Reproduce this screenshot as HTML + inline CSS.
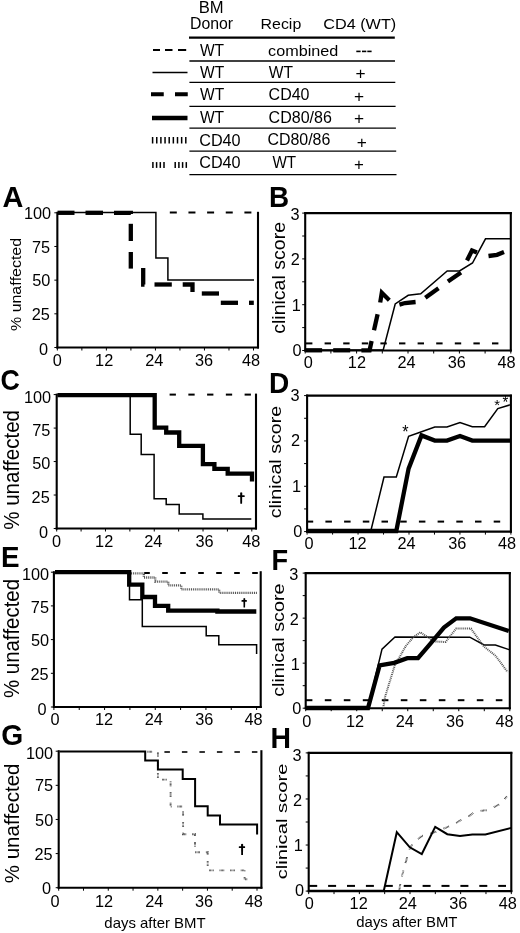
<!DOCTYPE html>
<html><head><meta charset="utf-8"><style>
html,body{margin:0;padding:0;background:#fff;}
body{width:520px;height:933px;overflow:hidden;}
svg{display:block;will-change:transform;}
svg text{font-family:"Liberation Sans", sans-serif;fill:#000;font-kerning:none;}
</style></head><body>
<svg width="520" height="933" viewBox="0 0 520 933">
<text font-size="15.99" transform="translate(198.64 13.3) scale(1.0393 1)">BM</text>
<text font-size="16.48" transform="translate(190 28.64) scale(0.9615 1)">Donor</text>
<text font-size="15.45" transform="translate(260.59 29.29) scale(1.0298 1)">Recip</text>
<text font-size="15.24" transform="translate(323.17 28.94) scale(1.0665 1)">CD4 (WT)</text>
<line x1="189" y1="37.6" x2="394.8" y2="37.6" stroke="#000" stroke-width="2.2" stroke-linecap="butt"/>
<line x1="189.4" y1="61" x2="395" y2="61" stroke="#000" stroke-width="1.3" stroke-linecap="butt"/>
<line x1="189.4" y1="82.3" x2="395.3" y2="82.3" stroke="#000" stroke-width="1.3" stroke-linecap="butt"/>
<line x1="189.4" y1="106.3" x2="395.6" y2="106.3" stroke="#000" stroke-width="1.3" stroke-linecap="butt"/>
<line x1="189.4" y1="128.1" x2="395.9" y2="128.1" stroke="#000" stroke-width="1.3" stroke-linecap="butt"/>
<line x1="189.4" y1="151.1" x2="396.2" y2="151.1" stroke="#000" stroke-width="1.3" stroke-linecap="butt"/>
<line x1="189.4" y1="174.6" x2="396.5" y2="174.6" stroke="#000" stroke-width="1.3" stroke-linecap="butt"/>
<text font-size="16.86" transform="translate(199.93 55.9) scale(0.9242 1)">WT</text>
<text font-size="16.72" transform="translate(199.93 77.5) scale(0.9322 1)">WT</text>
<text font-size="16.72" transform="translate(199.93 100.1) scale(0.9322 1)">WT</text>
<text font-size="16.13" transform="translate(199.93 123) scale(0.9658 1)">WT</text>
<text font-size="16.24" transform="translate(199.18 145.64) scale(0.9983 1)">CD40</text>
<text font-size="15.96" transform="translate(199.18 168.04) scale(1.0160 1)">CD40</text>
<text font-size="15.11" transform="translate(268.11 55.55) scale(1.0716 1)">combined</text>
<text font-size="16.42" transform="translate(268.73 77.6) scale(0.9487 1)">WT</text>
<text font-size="16.67" transform="translate(268.59 100.24) scale(0.9608 1)">CD40</text>
<text font-size="15.66" transform="translate(268.59 123.05) scale(1.0245 1)">CD80/86</text>
<text font-size="15.66" transform="translate(267.39 145.35) scale(1.0195 1)">CD80/86</text>
<text font-size="15.7" transform="translate(272.43 167.8) scale(0.9718 1)">WT</text>
<rect x="356.3" y="50.6" width="4.3" height="1.6" fill="#000"/>
<rect x="362" y="50.6" width="4.3" height="1.6" fill="#000"/>
<rect x="367.3" y="50.6" width="4.3" height="1.6" fill="#000"/>
<text font-size="16.76" transform="translate(355.56 79.27) scale(1.0316 1)">+</text>
<text font-size="16.35" transform="translate(353.96 101.64) scale(1.0574 1)">+</text>
<text font-size="16.35" transform="translate(353.96 124.44) scale(1.0574 1)">+</text>
<text font-size="16.76" transform="translate(356.76 147.67) scale(1.0316 1)">+</text>
<text font-size="17.17" transform="translate(353.98 169.81) scale(0.9831 1)">+</text>
<line x1="153" y1="50" x2="160" y2="50" stroke="#000" stroke-width="2" stroke-linecap="butt"/>
<line x1="165" y1="50" x2="172.5" y2="50" stroke="#000" stroke-width="2" stroke-linecap="butt"/>
<line x1="178" y1="50" x2="186.2" y2="50" stroke="#000" stroke-width="2" stroke-linecap="butt"/>
<line x1="152.5" y1="72.5" x2="187.5" y2="72.5" stroke="#000" stroke-width="1.5" stroke-linecap="butt"/>
<line x1="151" y1="94.3" x2="188" y2="94.3" stroke="#000" stroke-width="4" stroke-linecap="butt" stroke-dasharray="12.75,11.25"/>
<line x1="152" y1="118" x2="187.5" y2="118" stroke="#000" stroke-width="4.5" stroke-linecap="butt"/>
<line x1="152.6" y1="137" x2="152.6" y2="143.5" stroke="#000" stroke-width="1.5" stroke-linecap="butt"/>
<line x1="156.75" y1="137" x2="156.75" y2="143.5" stroke="#000" stroke-width="1.5" stroke-linecap="butt"/>
<line x1="160.9" y1="137" x2="160.9" y2="143.5" stroke="#000" stroke-width="1.5" stroke-linecap="butt"/>
<line x1="165.05" y1="137" x2="165.05" y2="143.5" stroke="#000" stroke-width="1.5" stroke-linecap="butt"/>
<line x1="169.2" y1="137" x2="169.2" y2="143.5" stroke="#000" stroke-width="1.5" stroke-linecap="butt"/>
<line x1="173.35" y1="137" x2="173.35" y2="143.5" stroke="#000" stroke-width="1.5" stroke-linecap="butt"/>
<line x1="177.5" y1="137" x2="177.5" y2="143.5" stroke="#000" stroke-width="1.5" stroke-linecap="butt"/>
<line x1="181.65" y1="137" x2="181.65" y2="143.5" stroke="#000" stroke-width="1.5" stroke-linecap="butt"/>
<line x1="185.8" y1="137" x2="185.8" y2="143.5" stroke="#000" stroke-width="1.5" stroke-linecap="butt"/>
<line x1="152.9" y1="162.1" x2="152.9" y2="167.9" stroke="#000" stroke-width="1.5" stroke-linecap="butt"/>
<line x1="156.6" y1="162.1" x2="156.6" y2="167.9" stroke="#000" stroke-width="1.5" stroke-linecap="butt"/>
<line x1="160.3" y1="162.1" x2="160.3" y2="167.9" stroke="#000" stroke-width="1.5" stroke-linecap="butt"/>
<line x1="164" y1="162.1" x2="164" y2="167.9" stroke="#000" stroke-width="1.5" stroke-linecap="butt"/>
<line x1="175.2" y1="162.1" x2="175.2" y2="167.9" stroke="#000" stroke-width="1.5" stroke-linecap="butt"/>
<line x1="178.9" y1="162.1" x2="178.9" y2="167.9" stroke="#000" stroke-width="1.5" stroke-linecap="butt"/>
<line x1="182.6" y1="162.1" x2="182.6" y2="167.9" stroke="#000" stroke-width="1.5" stroke-linecap="butt"/>
<line x1="186.3" y1="162.1" x2="186.3" y2="167.9" stroke="#000" stroke-width="1.5" stroke-linecap="butt"/>
<text font-size="29.07" font-weight="bold" transform="translate(2.38 207) scale(0.9947 1)">A</text>
<text font-size="29.07" font-weight="bold" transform="translate(268.94 206.8) scale(0.9589 1)">B</text>
<text font-size="29.1" font-weight="bold" transform="translate(0.6 389.52) scale(0.9199 1)">C</text>
<text font-size="29.22" font-weight="bold" transform="translate(268.92 392.8) scale(0.9600 1)">D</text>
<text font-size="29.36" font-weight="bold" transform="translate(1.04 566.9) scale(0.9470 1)">E</text>
<text font-size="29.07" font-weight="bold" transform="translate(271.38 569.5) scale(0.9357 1)">F</text>
<text font-size="28.95" font-weight="bold" transform="translate(1.14 744.92) scale(0.9776 1)">G</text>
<text font-size="29.07" font-weight="bold" transform="translate(270.5 747.8) scale(0.9772 1)">H</text>
<text font-size="15.39" transform="translate(21.15 330.97) rotate(-90) scale(1.0365 1)">% unaffected</text>
<text font-size="21.65" transform="translate(18.99 529.73) rotate(-90) scale(0.9479 1)">% unaffected</text>
<text font-size="21.65" transform="translate(18.99 697.98) rotate(-90) scale(0.9419 1)">% unaffected</text>
<text font-size="21.04" transform="translate(18.99 883.23) rotate(-90) scale(0.9755 1)">% unaffected</text>
<text font-size="18.38" transform="translate(285.07 333.83) rotate(-90) scale(1.0639 1)">clinical score</text>
<text font-size="16.75" transform="translate(281.34 518.34) rotate(-90) scale(1.1756 1)">clinical score</text>
<text font-size="17.36" transform="translate(284.33 696.84) rotate(-90) scale(1.1418 1)">clinical score</text>
<text font-size="15.25" transform="translate(286.75 879.26) rotate(-90) scale(1.3272 1)">clinical score</text>
<text font-size="15.02" transform="translate(104.37 927.78) scale(0.9955 1)">days after BMT</text>
<text font-size="15.34" transform="translate(356.27 927.22) scale(0.9746 1)">days after BMT</text>
<path d="M240.15,492.8 Q241.2,491.8 242.25,492.8 L242.08,503.8 L240.32,503.8 Z" fill="#000"/>
<rect x="237.8" y="495.2" width="6.9" height="1.8" rx="0.5" fill="#000"/>
<path d="M243.4,598.4 Q244.3,597.4 245.2,598.4 L245.06,607.5 L243.54,607.5 Z" fill="#000"/>
<rect x="241.5" y="600.1" width="5.4" height="1.6" rx="0.5" fill="#000"/>
<path d="M241.05,844.2 Q242.1,843.2 243.15,844.2 L242.98,854.9 L241.22,854.9 Z" fill="#000"/>
<rect x="238.8" y="846.3" width="6.3" height="1.8" rx="0.5" fill="#000"/>
<text font-size="18.23" transform="translate(402.34 438.34) scale(0.8902 1)">*</text>
<text font-size="15.38" transform="translate(494.36 410.28) scale(0.9641 1)">*</text>
<text font-size="17.09" transform="translate(502.46 407.76) scale(0.8676 1)">*</text>
<line x1="57.35" y1="211.8" x2="57.35" y2="348.5" stroke="#000" stroke-width="2.1" stroke-linecap="butt"/>
<line x1="56.35" y1="347.5" x2="259" y2="347.5" stroke="#000" stroke-width="2.1" stroke-linecap="butt"/>
<line x1="258" y1="211.8" x2="258" y2="348.5" stroke="#000" stroke-width="2.1" stroke-linecap="butt"/>
<line x1="54.35" y1="347.5" x2="57.35" y2="347.5" stroke="#000" stroke-width="1" stroke-linecap="butt"/>
<line x1="54.35" y1="313.82" x2="57.35" y2="313.82" stroke="#000" stroke-width="1" stroke-linecap="butt"/>
<line x1="54.35" y1="280.15" x2="57.35" y2="280.15" stroke="#000" stroke-width="1" stroke-linecap="butt"/>
<line x1="54.35" y1="246.47" x2="57.35" y2="246.47" stroke="#000" stroke-width="1" stroke-linecap="butt"/>
<line x1="54.35" y1="212.8" x2="57.35" y2="212.8" stroke="#000" stroke-width="1" stroke-linecap="butt"/>
<line x1="57.35" y1="347.5" x2="57.35" y2="350.5" stroke="#000" stroke-width="1" stroke-linecap="butt"/>
<line x1="81.87" y1="347.5" x2="81.87" y2="350.5" stroke="#000" stroke-width="1" stroke-linecap="butt"/>
<line x1="106.39" y1="347.5" x2="106.39" y2="350.5" stroke="#000" stroke-width="1" stroke-linecap="butt"/>
<line x1="130.91" y1="347.5" x2="130.91" y2="350.5" stroke="#000" stroke-width="1" stroke-linecap="butt"/>
<line x1="155.43" y1="347.5" x2="155.43" y2="350.5" stroke="#000" stroke-width="1" stroke-linecap="butt"/>
<line x1="179.94" y1="347.5" x2="179.94" y2="350.5" stroke="#000" stroke-width="1" stroke-linecap="butt"/>
<line x1="204.46" y1="347.5" x2="204.46" y2="350.5" stroke="#000" stroke-width="1" stroke-linecap="butt"/>
<line x1="228.98" y1="347.5" x2="228.98" y2="350.5" stroke="#000" stroke-width="1" stroke-linecap="butt"/>
<line x1="253.5" y1="347.5" x2="253.5" y2="350.5" stroke="#000" stroke-width="1" stroke-linecap="butt"/>
<text x="23.95" y="219.46" font-size="16.3" text-anchor="start">100</text>
<text x="32.06" y="253.08" font-size="16.3" text-anchor="start">75</text>
<text x="32.28" y="286.36" font-size="16.3" text-anchor="start">50</text>
<text x="31.67" y="320.06" font-size="16.3" text-anchor="start">25</text>
<text x="38.97" y="355.01" font-size="16.3" text-anchor="start">0</text>
<text x="52.87" y="365.91" font-size="16.3" text-anchor="start">0</text>
<text x="95.12" y="365.99" font-size="16.3" text-anchor="start">12</text>
<text x="145.16" y="365.99" font-size="16.3" text-anchor="start">24</text>
<text x="194.93" y="365.91" font-size="16.3" text-anchor="start">36</text>
<text x="242.05" y="365.91" font-size="16.3" text-anchor="start">48</text>
<line x1="169.8" y1="212.5" x2="176.8" y2="212.5" stroke="#000" stroke-width="2" stroke-linecap="butt"/>
<line x1="188.45" y1="212.5" x2="195.45" y2="212.5" stroke="#000" stroke-width="2" stroke-linecap="butt"/>
<line x1="207.1" y1="212.5" x2="214.1" y2="212.5" stroke="#000" stroke-width="2" stroke-linecap="butt"/>
<line x1="225.75" y1="212.5" x2="232.75" y2="212.5" stroke="#000" stroke-width="2" stroke-linecap="butt"/>
<line x1="244.4" y1="212.5" x2="251.4" y2="212.5" stroke="#000" stroke-width="2" stroke-linecap="butt"/>
<polyline points="58,212.6 155.9,212.6 155.9,257.9 167.9,257.9 167.9,280 254,280" fill="none" stroke="#000" stroke-width="1.5" stroke-linejoin="miter" stroke-linecap="butt"/>
<polyline points="57.5,212.8 74.5,212.8" fill="none" stroke="#000" stroke-width="4.3" stroke-linejoin="miter" stroke-linecap="butt"/>
<polyline points="85.5,212.8 103,212.8" fill="none" stroke="#000" stroke-width="4.3" stroke-linejoin="miter" stroke-linecap="butt"/>
<polyline points="114,212.8 130.8,212.8 130.8,214" fill="none" stroke="#000" stroke-width="4.3" stroke-linejoin="miter" stroke-linecap="butt"/>
<polyline points="130.8,223.8 130.8,241" fill="none" stroke="#000" stroke-width="4.3" stroke-linejoin="miter" stroke-linecap="butt"/>
<polyline points="130.8,252 130.8,268.6" fill="none" stroke="#000" stroke-width="4.3" stroke-linejoin="miter" stroke-linecap="butt"/>
<polyline points="143.2,268 143.2,284.5 144.5,284.5" fill="none" stroke="#000" stroke-width="4.3" stroke-linejoin="miter" stroke-linecap="butt"/>
<polyline points="154.5,284.5 171.8,284.5" fill="none" stroke="#000" stroke-width="4.3" stroke-linejoin="miter" stroke-linecap="butt"/>
<polyline points="182.7,284.5 192.5,284.5 192.5,292" fill="none" stroke="#000" stroke-width="4.3" stroke-linejoin="miter" stroke-linecap="butt"/>
<polyline points="201.8,293.5 219,293.5" fill="none" stroke="#000" stroke-width="4.3" stroke-linejoin="miter" stroke-linecap="butt"/>
<polyline points="220.8,302.8 238,302.8" fill="none" stroke="#000" stroke-width="4.3" stroke-linejoin="miter" stroke-linecap="butt"/>
<polyline points="249,302.8 253.8,302.8" fill="none" stroke="#000" stroke-width="4.3" stroke-linejoin="miter" stroke-linecap="butt"/>
<line x1="305.2" y1="212.1" x2="305.2" y2="351.5" stroke="#000" stroke-width="2.1" stroke-linecap="butt"/>
<line x1="304.2" y1="350.5" x2="511.8" y2="350.5" stroke="#000" stroke-width="2.1" stroke-linecap="butt"/>
<line x1="510.8" y1="212.1" x2="510.8" y2="351.5" stroke="#000" stroke-width="2.1" stroke-linecap="butt"/>
<line x1="304.2" y1="213.1" x2="511.8" y2="213.1" stroke="#000" stroke-width="2.1" stroke-linecap="butt"/>
<line x1="302.2" y1="350.5" x2="305.2" y2="350.5" stroke="#000" stroke-width="1" stroke-linecap="butt"/>
<line x1="302.2" y1="327.6" x2="305.2" y2="327.6" stroke="#000" stroke-width="1" stroke-linecap="butt"/>
<line x1="302.2" y1="304.7" x2="305.2" y2="304.7" stroke="#000" stroke-width="1" stroke-linecap="butt"/>
<line x1="302.2" y1="281.8" x2="305.2" y2="281.8" stroke="#000" stroke-width="1" stroke-linecap="butt"/>
<line x1="302.2" y1="258.9" x2="305.2" y2="258.9" stroke="#000" stroke-width="1" stroke-linecap="butt"/>
<line x1="302.2" y1="236" x2="305.2" y2="236" stroke="#000" stroke-width="1" stroke-linecap="butt"/>
<line x1="302.2" y1="213.1" x2="305.2" y2="213.1" stroke="#000" stroke-width="1" stroke-linecap="butt"/>
<line x1="305.2" y1="350.5" x2="305.2" y2="353.5" stroke="#000" stroke-width="1" stroke-linecap="butt"/>
<line x1="330.9" y1="350.5" x2="330.9" y2="353.5" stroke="#000" stroke-width="1" stroke-linecap="butt"/>
<line x1="356.6" y1="350.5" x2="356.6" y2="353.5" stroke="#000" stroke-width="1" stroke-linecap="butt"/>
<line x1="382.3" y1="350.5" x2="382.3" y2="353.5" stroke="#000" stroke-width="1" stroke-linecap="butt"/>
<line x1="408" y1="350.5" x2="408" y2="353.5" stroke="#000" stroke-width="1" stroke-linecap="butt"/>
<line x1="433.7" y1="350.5" x2="433.7" y2="353.5" stroke="#000" stroke-width="1" stroke-linecap="butt"/>
<line x1="459.4" y1="350.5" x2="459.4" y2="353.5" stroke="#000" stroke-width="1" stroke-linecap="butt"/>
<line x1="485.1" y1="350.5" x2="485.1" y2="353.5" stroke="#000" stroke-width="1" stroke-linecap="butt"/>
<line x1="510.8" y1="350.5" x2="510.8" y2="353.5" stroke="#000" stroke-width="1" stroke-linecap="butt"/>
<text x="290.42" y="220.31" font-size="16.3" text-anchor="start">3</text>
<text x="290.77" y="265.34" font-size="16.3" text-anchor="start">2</text>
<text x="291.64" y="311.21" font-size="16.3" text-anchor="start">1</text>
<text x="292.62" y="356.16" font-size="16.3" text-anchor="start">0</text>
<text x="303.82" y="368.16" font-size="16.3" text-anchor="start">0</text>
<text x="347.87" y="368.24" font-size="16.3" text-anchor="start">12</text>
<text x="397.56" y="368.24" font-size="16.3" text-anchor="start">24</text>
<text x="447.68" y="368.16" font-size="16.3" text-anchor="start">36</text>
<text x="497.5" y="368.16" font-size="16.3" text-anchor="start">48</text>
<line x1="306" y1="343.4" x2="312.4" y2="343.4" stroke="#000" stroke-width="2" stroke-linecap="butt"/>
<line x1="324.6" y1="343.4" x2="331" y2="343.4" stroke="#000" stroke-width="2" stroke-linecap="butt"/>
<line x1="343.2" y1="343.4" x2="349.6" y2="343.4" stroke="#000" stroke-width="2" stroke-linecap="butt"/>
<line x1="361.8" y1="343.4" x2="368.2" y2="343.4" stroke="#000" stroke-width="2" stroke-linecap="butt"/>
<line x1="380.4" y1="343.4" x2="386.8" y2="343.4" stroke="#000" stroke-width="2" stroke-linecap="butt"/>
<line x1="399" y1="343.4" x2="405.4" y2="343.4" stroke="#000" stroke-width="2" stroke-linecap="butt"/>
<line x1="417.6" y1="343.4" x2="424" y2="343.4" stroke="#000" stroke-width="2" stroke-linecap="butt"/>
<line x1="436.2" y1="343.4" x2="442.6" y2="343.4" stroke="#000" stroke-width="2" stroke-linecap="butt"/>
<line x1="454.8" y1="343.4" x2="461.2" y2="343.4" stroke="#000" stroke-width="2" stroke-linecap="butt"/>
<line x1="473.4" y1="343.4" x2="479.8" y2="343.4" stroke="#000" stroke-width="2" stroke-linecap="butt"/>
<line x1="492" y1="343.4" x2="498.4" y2="343.4" stroke="#000" stroke-width="2" stroke-linecap="butt"/>
<polyline points="306,350 383.2,350 395.2,304 408.2,295.3 420.7,293.8 447.2,270.9 459.5,270.9 472.5,263 485.5,238.8 510.8,238.8" fill="none" stroke="#000" stroke-width="1.5" stroke-linejoin="miter" stroke-linecap="butt"/>
<polyline points="305.5,350.3 322.1,350.3" fill="none" stroke="#000" stroke-width="4.3" stroke-linejoin="miter" stroke-linecap="butt"/>
<polyline points="333.2,350.3 350.2,350.3" fill="none" stroke="#000" stroke-width="4.3" stroke-linejoin="miter" stroke-linecap="butt"/>
<polyline points="361.4,350.3 369.6,350.3 371.6,341" fill="none" stroke="#000" stroke-width="4.3" stroke-linejoin="miter" stroke-linecap="butt"/>
<polyline points="374,330.2 377.6,314.2" fill="none" stroke="#000" stroke-width="4.3" stroke-linejoin="miter" stroke-linecap="butt"/>
<polyline points="380.2,302.5 381.8,292.8 389.3,300.2" fill="none" stroke="#000" stroke-width="4.3" stroke-linejoin="miter" stroke-linecap="butt"/>
<polyline points="399.4,304.6 405,303 415.6,302" fill="none" stroke="#000" stroke-width="4.3" stroke-linejoin="miter" stroke-linecap="butt"/>
<polyline points="425.3,297.7 438.5,288.3" fill="none" stroke="#000" stroke-width="4.3" stroke-linejoin="miter" stroke-linecap="butt"/>
<polyline points="447.9,281.5 461,272.5" fill="none" stroke="#000" stroke-width="4.3" stroke-linejoin="miter" stroke-linecap="butt"/>
<polyline points="467,260.5 472,250.5 477,252.5" fill="none" stroke="#000" stroke-width="4.3" stroke-linejoin="miter" stroke-linecap="butt"/>
<polyline points="488.5,256 497,254.8 504,252" fill="none" stroke="#000" stroke-width="4.3" stroke-linejoin="miter" stroke-linecap="butt"/>
<line x1="56.7" y1="393.6" x2="56.7" y2="529.5" stroke="#000" stroke-width="2.1" stroke-linecap="butt"/>
<line x1="55.7" y1="528.5" x2="257" y2="528.5" stroke="#000" stroke-width="2.1" stroke-linecap="butt"/>
<line x1="256" y1="393.6" x2="256" y2="529.5" stroke="#000" stroke-width="2.1" stroke-linecap="butt"/>
<line x1="53.7" y1="528.5" x2="56.7" y2="528.5" stroke="#000" stroke-width="1" stroke-linecap="butt"/>
<line x1="53.7" y1="495.02" x2="56.7" y2="495.02" stroke="#000" stroke-width="1" stroke-linecap="butt"/>
<line x1="53.7" y1="461.55" x2="56.7" y2="461.55" stroke="#000" stroke-width="1" stroke-linecap="butt"/>
<line x1="53.7" y1="428.08" x2="56.7" y2="428.08" stroke="#000" stroke-width="1" stroke-linecap="butt"/>
<line x1="53.7" y1="394.6" x2="56.7" y2="394.6" stroke="#000" stroke-width="1" stroke-linecap="butt"/>
<line x1="56.7" y1="528.5" x2="56.7" y2="531.5" stroke="#000" stroke-width="1" stroke-linecap="butt"/>
<line x1="81.09" y1="528.5" x2="81.09" y2="531.5" stroke="#000" stroke-width="1" stroke-linecap="butt"/>
<line x1="105.48" y1="528.5" x2="105.48" y2="531.5" stroke="#000" stroke-width="1" stroke-linecap="butt"/>
<line x1="129.86" y1="528.5" x2="129.86" y2="531.5" stroke="#000" stroke-width="1" stroke-linecap="butt"/>
<line x1="154.25" y1="528.5" x2="154.25" y2="531.5" stroke="#000" stroke-width="1" stroke-linecap="butt"/>
<line x1="178.64" y1="528.5" x2="178.64" y2="531.5" stroke="#000" stroke-width="1" stroke-linecap="butt"/>
<line x1="203.03" y1="528.5" x2="203.03" y2="531.5" stroke="#000" stroke-width="1" stroke-linecap="butt"/>
<line x1="227.41" y1="528.5" x2="227.41" y2="531.5" stroke="#000" stroke-width="1" stroke-linecap="butt"/>
<line x1="251.8" y1="528.5" x2="251.8" y2="531.5" stroke="#000" stroke-width="1" stroke-linecap="butt"/>
<text x="23.95" y="402.61" font-size="16.3" text-anchor="start">100</text>
<text x="32.21" y="436.08" font-size="16.3" text-anchor="start">75</text>
<text x="32.28" y="469.36" font-size="16.3" text-anchor="start">50</text>
<text x="31.62" y="502.91" font-size="16.3" text-anchor="start">25</text>
<text x="38.97" y="537.61" font-size="16.3" text-anchor="start">0</text>
<text x="52.12" y="546.96" font-size="16.3" text-anchor="start">0</text>
<text x="95.07" y="547.04" font-size="16.3" text-anchor="start">12</text>
<text x="144.31" y="547.04" font-size="16.3" text-anchor="start">24</text>
<text x="195.38" y="546.96" font-size="16.3" text-anchor="start">36</text>
<text x="242.2" y="546.96" font-size="16.3" text-anchor="start">48</text>
<line x1="169.6" y1="394.6" x2="175.9" y2="394.6" stroke="#000" stroke-width="2" stroke-linecap="butt"/>
<line x1="188.35" y1="394.6" x2="194.65" y2="394.6" stroke="#000" stroke-width="2" stroke-linecap="butt"/>
<line x1="207.1" y1="394.6" x2="213.4" y2="394.6" stroke="#000" stroke-width="2" stroke-linecap="butt"/>
<line x1="225.85" y1="394.6" x2="232.15" y2="394.6" stroke="#000" stroke-width="2" stroke-linecap="butt"/>
<line x1="244.6" y1="394.6" x2="250.9" y2="394.6" stroke="#000" stroke-width="2" stroke-linecap="butt"/>
<polyline points="57.5,395.1 130.2,395.1 130.2,434.2 141.2,434.2 141.2,454.4 154.1,454.4 154.1,498.8 166.2,498.8 166.2,504.6 179.2,504.6 179.2,514.1 202.9,514.1 202.9,519 251.3,519" fill="none" stroke="#000" stroke-width="1.5" stroke-linejoin="miter" stroke-linecap="butt"/>
<polyline points="57.5,395.1 154.7,395.1 154.7,427.6 166.2,427.6 166.2,432.5 179.2,432.5 179.2,445.8 202.9,445.8 202.9,464.2 214.4,464.2 214.4,468.8 227.7,468.8 227.7,473.7 252,473.7 252,481.6" fill="none" stroke="#000" stroke-width="4.3" stroke-linejoin="miter" stroke-linecap="butt"/>
<line x1="307.1" y1="394.6" x2="307.1" y2="532.6" stroke="#000" stroke-width="2.1" stroke-linecap="butt"/>
<line x1="306.1" y1="531.6" x2="511.9" y2="531.6" stroke="#000" stroke-width="2.1" stroke-linecap="butt"/>
<line x1="510.9" y1="394.6" x2="510.9" y2="532.6" stroke="#000" stroke-width="2.1" stroke-linecap="butt"/>
<line x1="306.1" y1="395.6" x2="511.9" y2="395.6" stroke="#000" stroke-width="2.1" stroke-linecap="butt"/>
<line x1="304.1" y1="531.6" x2="307.1" y2="531.6" stroke="#000" stroke-width="1" stroke-linecap="butt"/>
<line x1="304.1" y1="508.93" x2="307.1" y2="508.93" stroke="#000" stroke-width="1" stroke-linecap="butt"/>
<line x1="304.1" y1="486.27" x2="307.1" y2="486.27" stroke="#000" stroke-width="1" stroke-linecap="butt"/>
<line x1="304.1" y1="463.6" x2="307.1" y2="463.6" stroke="#000" stroke-width="1" stroke-linecap="butt"/>
<line x1="304.1" y1="440.93" x2="307.1" y2="440.93" stroke="#000" stroke-width="1" stroke-linecap="butt"/>
<line x1="304.1" y1="418.27" x2="307.1" y2="418.27" stroke="#000" stroke-width="1" stroke-linecap="butt"/>
<line x1="304.1" y1="395.6" x2="307.1" y2="395.6" stroke="#000" stroke-width="1" stroke-linecap="butt"/>
<line x1="307.1" y1="531.6" x2="307.1" y2="534.6" stroke="#000" stroke-width="1" stroke-linecap="butt"/>
<line x1="332.58" y1="531.6" x2="332.58" y2="534.6" stroke="#000" stroke-width="1" stroke-linecap="butt"/>
<line x1="358.05" y1="531.6" x2="358.05" y2="534.6" stroke="#000" stroke-width="1" stroke-linecap="butt"/>
<line x1="383.52" y1="531.6" x2="383.52" y2="534.6" stroke="#000" stroke-width="1" stroke-linecap="butt"/>
<line x1="409" y1="531.6" x2="409" y2="534.6" stroke="#000" stroke-width="1" stroke-linecap="butt"/>
<line x1="434.47" y1="531.6" x2="434.47" y2="534.6" stroke="#000" stroke-width="1" stroke-linecap="butt"/>
<line x1="459.95" y1="531.6" x2="459.95" y2="534.6" stroke="#000" stroke-width="1" stroke-linecap="butt"/>
<line x1="485.42" y1="531.6" x2="485.42" y2="534.6" stroke="#000" stroke-width="1" stroke-linecap="butt"/>
<line x1="510.9" y1="531.6" x2="510.9" y2="534.6" stroke="#000" stroke-width="1" stroke-linecap="butt"/>
<text x="290.42" y="401.06" font-size="16.3" text-anchor="start">3</text>
<text x="290.92" y="446.44" font-size="16.3" text-anchor="start">2</text>
<text x="291.99" y="491.81" font-size="16.3" text-anchor="start">1</text>
<text x="293.17" y="536.86" font-size="16.3" text-anchor="start">0</text>
<text x="304.52" y="549.31" font-size="16.3" text-anchor="start">0</text>
<text x="348.42" y="549.39" font-size="16.3" text-anchor="start">12</text>
<text x="397.56" y="549.39" font-size="16.3" text-anchor="start">24</text>
<text x="448.28" y="549.31" font-size="16.3" text-anchor="start">36</text>
<text x="497.95" y="549.31" font-size="16.3" text-anchor="start">48</text>
<line x1="306.7" y1="521.6" x2="313.2" y2="521.6" stroke="#000" stroke-width="2" stroke-linecap="butt"/>
<line x1="325.4" y1="521.6" x2="331.9" y2="521.6" stroke="#000" stroke-width="2" stroke-linecap="butt"/>
<line x1="344.1" y1="521.6" x2="350.6" y2="521.6" stroke="#000" stroke-width="2" stroke-linecap="butt"/>
<line x1="362.8" y1="521.6" x2="369.3" y2="521.6" stroke="#000" stroke-width="2" stroke-linecap="butt"/>
<line x1="381.5" y1="521.6" x2="388" y2="521.6" stroke="#000" stroke-width="2" stroke-linecap="butt"/>
<line x1="400.2" y1="521.6" x2="406.7" y2="521.6" stroke="#000" stroke-width="2" stroke-linecap="butt"/>
<line x1="418.9" y1="521.6" x2="425.4" y2="521.6" stroke="#000" stroke-width="2" stroke-linecap="butt"/>
<line x1="437.6" y1="521.6" x2="444.1" y2="521.6" stroke="#000" stroke-width="2" stroke-linecap="butt"/>
<line x1="456.3" y1="521.6" x2="462.8" y2="521.6" stroke="#000" stroke-width="2" stroke-linecap="butt"/>
<line x1="475" y1="521.6" x2="481.5" y2="521.6" stroke="#000" stroke-width="2" stroke-linecap="butt"/>
<line x1="493.7" y1="521.6" x2="500.2" y2="521.6" stroke="#000" stroke-width="2" stroke-linecap="butt"/>
<polyline points="306,531 370.8,531 384,477 396.3,477 408.6,436.3 421.5,431.7 434.8,427 447,427 460,422.5 472.3,426.8 484.6,426.8 497.8,408.6 510.8,404.6" fill="none" stroke="#000" stroke-width="1.5" stroke-linejoin="miter" stroke-linecap="butt"/>
<polyline points="308,531 396.3,531 408.6,468.6 421.5,435.4 434.8,440.6 447,440.6 460,436 472.3,440.6 510.8,440.6" fill="none" stroke="#000" stroke-width="4.3" stroke-linejoin="miter" stroke-linecap="butt"/>
<line x1="53.9" y1="571.2" x2="53.9" y2="708" stroke="#000" stroke-width="2.1" stroke-linecap="butt"/>
<line x1="52.9" y1="707" x2="261.7" y2="707" stroke="#000" stroke-width="2.1" stroke-linecap="butt"/>
<line x1="260.7" y1="571.2" x2="260.7" y2="708" stroke="#000" stroke-width="2.1" stroke-linecap="butt"/>
<line x1="50.9" y1="707" x2="53.9" y2="707" stroke="#000" stroke-width="1" stroke-linecap="butt"/>
<line x1="50.9" y1="673.3" x2="53.9" y2="673.3" stroke="#000" stroke-width="1" stroke-linecap="butt"/>
<line x1="50.9" y1="639.6" x2="53.9" y2="639.6" stroke="#000" stroke-width="1" stroke-linecap="butt"/>
<line x1="50.9" y1="605.9" x2="53.9" y2="605.9" stroke="#000" stroke-width="1" stroke-linecap="butt"/>
<line x1="50.9" y1="572.2" x2="53.9" y2="572.2" stroke="#000" stroke-width="1" stroke-linecap="butt"/>
<line x1="53.9" y1="707" x2="53.9" y2="710" stroke="#000" stroke-width="1" stroke-linecap="butt"/>
<line x1="79.24" y1="707" x2="79.24" y2="710" stroke="#000" stroke-width="1" stroke-linecap="butt"/>
<line x1="104.58" y1="707" x2="104.58" y2="710" stroke="#000" stroke-width="1" stroke-linecap="butt"/>
<line x1="129.91" y1="707" x2="129.91" y2="710" stroke="#000" stroke-width="1" stroke-linecap="butt"/>
<line x1="155.25" y1="707" x2="155.25" y2="710" stroke="#000" stroke-width="1" stroke-linecap="butt"/>
<line x1="180.59" y1="707" x2="180.59" y2="710" stroke="#000" stroke-width="1" stroke-linecap="butt"/>
<line x1="205.93" y1="707" x2="205.93" y2="710" stroke="#000" stroke-width="1" stroke-linecap="butt"/>
<line x1="231.26" y1="707" x2="231.26" y2="710" stroke="#000" stroke-width="1" stroke-linecap="butt"/>
<line x1="256.6" y1="707" x2="256.6" y2="710" stroke="#000" stroke-width="1" stroke-linecap="butt"/>
<text x="21.95" y="580.06" font-size="16.3" text-anchor="start">100</text>
<text x="30.86" y="613.08" font-size="16.3" text-anchor="start">75</text>
<text x="30.93" y="646.36" font-size="16.3" text-anchor="start">50</text>
<text x="30.47" y="680.06" font-size="16.3" text-anchor="start">25</text>
<text x="37.57" y="714.76" font-size="16.3" text-anchor="start">0</text>
<text x="50.52" y="724.56" font-size="16.3" text-anchor="start">0</text>
<text x="95.02" y="724.64" font-size="16.3" text-anchor="start">12</text>
<text x="144.81" y="724.64" font-size="16.3" text-anchor="start">24</text>
<text x="195.18" y="724.56" font-size="16.3" text-anchor="start">36</text>
<text x="244.55" y="724.56" font-size="16.3" text-anchor="start">48</text>
<line x1="144.2" y1="573" x2="149.8" y2="573" stroke="#000" stroke-width="2" stroke-linecap="butt"/>
<line x1="162.2" y1="573" x2="167.8" y2="573" stroke="#000" stroke-width="2" stroke-linecap="butt"/>
<line x1="180.2" y1="573" x2="185.8" y2="573" stroke="#000" stroke-width="2" stroke-linecap="butt"/>
<line x1="198.2" y1="573" x2="203.8" y2="573" stroke="#000" stroke-width="2" stroke-linecap="butt"/>
<line x1="216.2" y1="573" x2="221.8" y2="573" stroke="#000" stroke-width="2" stroke-linecap="butt"/>
<line x1="234.2" y1="573" x2="239.8" y2="573" stroke="#000" stroke-width="2" stroke-linecap="butt"/>
<line x1="252.2" y1="573" x2="257.8" y2="573" stroke="#000" stroke-width="2" stroke-linecap="butt"/>
<polyline points="55,572.2 129.5,572.2 129.5,599.7 142.3,599.7 142.3,626.5 206.2,626.5 206.2,635.8 218.8,635.8 218.8,644.7 256.6,644.7 256.6,654" fill="none" stroke="#000" stroke-width="1.5" stroke-linejoin="miter" stroke-linecap="butt"/>
<polyline points="131,573.4 143.8,573.4 143.8,577.5 155.3,577.5 155.3,581.7 168.3,581.7 168.3,585.4 181.3,585.4 181.3,589.4 219.2,589.4 219.2,592.9 257.8,592.9" fill="none" stroke="#555" stroke-width="2.3" stroke-linejoin="miter" stroke-linecap="butt" stroke-dasharray="1,0.9"/>
<polyline points="55,572.2 129.2,572.2 129.2,584.6 142.3,584.6 142.3,597 155,597 155,605.8 168.2,605.8 168.2,610.7 217.4,610.7 217.4,611.5 256.3,611.5" fill="none" stroke="#000" stroke-width="4.3" stroke-linejoin="miter" stroke-linecap="butt"/>
<line x1="305.7" y1="572.1" x2="305.7" y2="709.2" stroke="#000" stroke-width="2.1" stroke-linecap="butt"/>
<line x1="304.7" y1="708.2" x2="510.8" y2="708.2" stroke="#000" stroke-width="2.1" stroke-linecap="butt"/>
<line x1="509.8" y1="572.1" x2="509.8" y2="709.2" stroke="#000" stroke-width="2.1" stroke-linecap="butt"/>
<line x1="304.7" y1="573.1" x2="510.8" y2="573.1" stroke="#000" stroke-width="2.1" stroke-linecap="butt"/>
<line x1="302.7" y1="708.2" x2="305.7" y2="708.2" stroke="#000" stroke-width="1" stroke-linecap="butt"/>
<line x1="302.7" y1="685.68" x2="305.7" y2="685.68" stroke="#000" stroke-width="1" stroke-linecap="butt"/>
<line x1="302.7" y1="663.17" x2="305.7" y2="663.17" stroke="#000" stroke-width="1" stroke-linecap="butt"/>
<line x1="302.7" y1="640.65" x2="305.7" y2="640.65" stroke="#000" stroke-width="1" stroke-linecap="butt"/>
<line x1="302.7" y1="618.13" x2="305.7" y2="618.13" stroke="#000" stroke-width="1" stroke-linecap="butt"/>
<line x1="302.7" y1="595.62" x2="305.7" y2="595.62" stroke="#000" stroke-width="1" stroke-linecap="butt"/>
<line x1="302.7" y1="573.1" x2="305.7" y2="573.1" stroke="#000" stroke-width="1" stroke-linecap="butt"/>
<line x1="305.7" y1="708.2" x2="305.7" y2="711.2" stroke="#000" stroke-width="1" stroke-linecap="butt"/>
<line x1="331.21" y1="708.2" x2="331.21" y2="711.2" stroke="#000" stroke-width="1" stroke-linecap="butt"/>
<line x1="356.73" y1="708.2" x2="356.73" y2="711.2" stroke="#000" stroke-width="1" stroke-linecap="butt"/>
<line x1="382.24" y1="708.2" x2="382.24" y2="711.2" stroke="#000" stroke-width="1" stroke-linecap="butt"/>
<line x1="407.75" y1="708.2" x2="407.75" y2="711.2" stroke="#000" stroke-width="1" stroke-linecap="butt"/>
<line x1="433.26" y1="708.2" x2="433.26" y2="711.2" stroke="#000" stroke-width="1" stroke-linecap="butt"/>
<line x1="458.77" y1="708.2" x2="458.77" y2="711.2" stroke="#000" stroke-width="1" stroke-linecap="butt"/>
<line x1="484.29" y1="708.2" x2="484.29" y2="711.2" stroke="#000" stroke-width="1" stroke-linecap="butt"/>
<line x1="509.8" y1="708.2" x2="509.8" y2="711.2" stroke="#000" stroke-width="1" stroke-linecap="butt"/>
<text x="289.22" y="579.76" font-size="16.3" text-anchor="start">3</text>
<text x="289.87" y="624.69" font-size="16.3" text-anchor="start">2</text>
<text x="290.69" y="669.76" font-size="16.3" text-anchor="start">1</text>
<text x="292.22" y="714.16" font-size="16.3" text-anchor="start">0</text>
<text x="302.22" y="727.31" font-size="16.3" text-anchor="start">0</text>
<text x="346.02" y="727.39" font-size="16.3" text-anchor="start">12</text>
<text x="395.81" y="727.39" font-size="16.3" text-anchor="start">24</text>
<text x="445.88" y="727.31" font-size="16.3" text-anchor="start">36</text>
<text x="495.45" y="727.31" font-size="16.3" text-anchor="start">48</text>
<line x1="305.8" y1="700.2" x2="312.4" y2="700.2" stroke="#000" stroke-width="2" stroke-linecap="butt"/>
<line x1="324.8" y1="700.2" x2="331.4" y2="700.2" stroke="#000" stroke-width="2" stroke-linecap="butt"/>
<line x1="343.8" y1="700.2" x2="350.4" y2="700.2" stroke="#000" stroke-width="2" stroke-linecap="butt"/>
<line x1="362.8" y1="700.2" x2="369.4" y2="700.2" stroke="#000" stroke-width="2" stroke-linecap="butt"/>
<line x1="381.8" y1="700.2" x2="388.4" y2="700.2" stroke="#000" stroke-width="2" stroke-linecap="butt"/>
<line x1="400.8" y1="700.2" x2="407.4" y2="700.2" stroke="#000" stroke-width="2" stroke-linecap="butt"/>
<line x1="419.8" y1="700.2" x2="426.4" y2="700.2" stroke="#000" stroke-width="2" stroke-linecap="butt"/>
<line x1="438.8" y1="700.2" x2="445.4" y2="700.2" stroke="#000" stroke-width="2" stroke-linecap="butt"/>
<line x1="457.8" y1="700.2" x2="464.4" y2="700.2" stroke="#000" stroke-width="2" stroke-linecap="butt"/>
<line x1="476.8" y1="700.2" x2="483.4" y2="700.2" stroke="#000" stroke-width="2" stroke-linecap="butt"/>
<line x1="495.8" y1="700.2" x2="502.4" y2="700.2" stroke="#000" stroke-width="2" stroke-linecap="butt"/>
<polyline points="306,708 368,708 382,649.2 395,637 469.8,637.2 484,645 495.4,645 509.8,649.9" fill="none" stroke="#000" stroke-width="1.5" stroke-linejoin="miter" stroke-linecap="butt"/>
<polyline points="383.2,708 385,697 395,664.6 398.8,658.5 405.8,646 413.5,637 420.4,632.3 429.6,638.5 435.8,641.5 445.5,642 456.2,628.6 470.9,628.6 484,646.6 495.4,655.6 507.6,672" fill="none" stroke="#555" stroke-width="2" stroke-linejoin="miter" stroke-linecap="butt" stroke-dasharray="1,0.9"/>
<polyline points="306,708 368,708 379.6,665.4 394.2,662.8 407.3,658.2 418,658.2 429.6,644.6 443.9,627.5 456.2,618.3 470,618.3 508.8,631" fill="none" stroke="#000" stroke-width="4.3" stroke-linejoin="miter" stroke-linecap="butt"/>
<line x1="58.7" y1="750.2" x2="58.7" y2="888.7" stroke="#000" stroke-width="2.1" stroke-linecap="butt"/>
<line x1="57.7" y1="887.7" x2="262.4" y2="887.7" stroke="#000" stroke-width="2.1" stroke-linecap="butt"/>
<line x1="261.4" y1="750.2" x2="261.4" y2="888.7" stroke="#000" stroke-width="2.1" stroke-linecap="butt"/>
<line x1="55.7" y1="887.7" x2="58.7" y2="887.7" stroke="#000" stroke-width="1" stroke-linecap="butt"/>
<line x1="55.7" y1="853.58" x2="58.7" y2="853.58" stroke="#000" stroke-width="1" stroke-linecap="butt"/>
<line x1="55.7" y1="819.45" x2="58.7" y2="819.45" stroke="#000" stroke-width="1" stroke-linecap="butt"/>
<line x1="55.7" y1="785.33" x2="58.7" y2="785.33" stroke="#000" stroke-width="1" stroke-linecap="butt"/>
<line x1="55.7" y1="751.2" x2="58.7" y2="751.2" stroke="#000" stroke-width="1" stroke-linecap="butt"/>
<line x1="58.7" y1="887.7" x2="58.7" y2="890.7" stroke="#000" stroke-width="1" stroke-linecap="butt"/>
<line x1="83.49" y1="887.7" x2="83.49" y2="890.7" stroke="#000" stroke-width="1" stroke-linecap="butt"/>
<line x1="108.28" y1="887.7" x2="108.28" y2="890.7" stroke="#000" stroke-width="1" stroke-linecap="butt"/>
<line x1="133.06" y1="887.7" x2="133.06" y2="890.7" stroke="#000" stroke-width="1" stroke-linecap="butt"/>
<line x1="157.85" y1="887.7" x2="157.85" y2="890.7" stroke="#000" stroke-width="1" stroke-linecap="butt"/>
<line x1="182.64" y1="887.7" x2="182.64" y2="890.7" stroke="#000" stroke-width="1" stroke-linecap="butt"/>
<line x1="207.43" y1="887.7" x2="207.43" y2="890.7" stroke="#000" stroke-width="1" stroke-linecap="butt"/>
<line x1="232.21" y1="887.7" x2="232.21" y2="890.7" stroke="#000" stroke-width="1" stroke-linecap="butt"/>
<line x1="257" y1="887.7" x2="257" y2="890.7" stroke="#000" stroke-width="1" stroke-linecap="butt"/>
<text x="25.95" y="758.81" font-size="16.3" text-anchor="start">100</text>
<text x="35.01" y="791.38" font-size="16.3" text-anchor="start">75</text>
<text x="35.08" y="825.96" font-size="16.3" text-anchor="start">50</text>
<text x="34.47" y="859.56" font-size="16.3" text-anchor="start">25</text>
<text x="41.97" y="894.31" font-size="16.3" text-anchor="start">0</text>
<text x="50.52" y="906.61" font-size="16.3" text-anchor="start">0</text>
<text x="95.02" y="906.69" font-size="16.3" text-anchor="start">12</text>
<text x="145.16" y="906.69" font-size="16.3" text-anchor="start">24</text>
<text x="195.03" y="906.61" font-size="16.3" text-anchor="start">36</text>
<text x="244.65" y="906.61" font-size="16.3" text-anchor="start">48</text>
<line x1="164.4" y1="752" x2="169.9" y2="752" stroke="#000" stroke-width="1.6" stroke-linecap="butt"/>
<line x1="181.9" y1="752" x2="187.4" y2="752" stroke="#000" stroke-width="1.6" stroke-linecap="butt"/>
<line x1="199.4" y1="752" x2="204.9" y2="752" stroke="#000" stroke-width="1.6" stroke-linecap="butt"/>
<line x1="216.9" y1="752" x2="222.4" y2="752" stroke="#000" stroke-width="1.6" stroke-linecap="butt"/>
<line x1="234.4" y1="752" x2="239.9" y2="752" stroke="#000" stroke-width="1.6" stroke-linecap="butt"/>
<line x1="251.9" y1="752" x2="257.4" y2="752" stroke="#000" stroke-width="1.6" stroke-linecap="butt"/>
<polyline points="147.5,751.7 157.9,751.7 157.9,779.6 170.6,779.6 170.6,806.5 183.1,806.5 183.1,834.2 195,834.2 195,852.3 207.7,852.3 207.7,870.4 244.6,870.4 244.6,879.2 250.4,879.2" fill="none" stroke="#333" stroke-width="1.9" stroke-linejoin="miter" stroke-linecap="butt" stroke-dasharray="0.7,0.6,0.7,0.6,0.7,0.6,0.7,6"/>
<polyline points="59.5,751.5 145.2,751.5 145.2,760.6 157.9,760.6 157.9,769.5 182.7,769.5 182.7,779 195.1,779 195.1,806.2 207.7,806.2 207.7,815.6 220,815.6 220,824.4 257.1,824.4 257.1,834.4" fill="none" stroke="#000" stroke-width="2" stroke-linejoin="miter" stroke-linecap="butt"/>
<line x1="308.7" y1="751.9" x2="308.7" y2="892.1" stroke="#000" stroke-width="2.1" stroke-linecap="butt"/>
<line x1="307.7" y1="891.1" x2="512.3" y2="891.1" stroke="#000" stroke-width="2.1" stroke-linecap="butt"/>
<line x1="511.3" y1="751.9" x2="511.3" y2="892.1" stroke="#000" stroke-width="2.1" stroke-linecap="butt"/>
<line x1="307.7" y1="752.9" x2="512.3" y2="752.9" stroke="#000" stroke-width="2.1" stroke-linecap="butt"/>
<line x1="305.7" y1="891.1" x2="308.7" y2="891.1" stroke="#000" stroke-width="1" stroke-linecap="butt"/>
<line x1="305.7" y1="868.07" x2="308.7" y2="868.07" stroke="#000" stroke-width="1" stroke-linecap="butt"/>
<line x1="305.7" y1="845.03" x2="308.7" y2="845.03" stroke="#000" stroke-width="1" stroke-linecap="butt"/>
<line x1="305.7" y1="822" x2="308.7" y2="822" stroke="#000" stroke-width="1" stroke-linecap="butt"/>
<line x1="305.7" y1="798.97" x2="308.7" y2="798.97" stroke="#000" stroke-width="1" stroke-linecap="butt"/>
<line x1="305.7" y1="775.93" x2="308.7" y2="775.93" stroke="#000" stroke-width="1" stroke-linecap="butt"/>
<line x1="305.7" y1="752.9" x2="308.7" y2="752.9" stroke="#000" stroke-width="1" stroke-linecap="butt"/>
<line x1="308.7" y1="891.1" x2="308.7" y2="894.1" stroke="#000" stroke-width="1" stroke-linecap="butt"/>
<line x1="334.02" y1="891.1" x2="334.02" y2="894.1" stroke="#000" stroke-width="1" stroke-linecap="butt"/>
<line x1="359.35" y1="891.1" x2="359.35" y2="894.1" stroke="#000" stroke-width="1" stroke-linecap="butt"/>
<line x1="384.68" y1="891.1" x2="384.68" y2="894.1" stroke="#000" stroke-width="1" stroke-linecap="butt"/>
<line x1="410" y1="891.1" x2="410" y2="894.1" stroke="#000" stroke-width="1" stroke-linecap="butt"/>
<line x1="435.32" y1="891.1" x2="435.32" y2="894.1" stroke="#000" stroke-width="1" stroke-linecap="butt"/>
<line x1="460.65" y1="891.1" x2="460.65" y2="894.1" stroke="#000" stroke-width="1" stroke-linecap="butt"/>
<line x1="485.98" y1="891.1" x2="485.98" y2="894.1" stroke="#000" stroke-width="1" stroke-linecap="butt"/>
<line x1="511.3" y1="891.1" x2="511.3" y2="894.1" stroke="#000" stroke-width="1" stroke-linecap="butt"/>
<text x="292.42" y="761.06" font-size="16.3" text-anchor="start">3</text>
<text x="292.92" y="805.74" font-size="16.3" text-anchor="start">2</text>
<text x="293.84" y="850.96" font-size="16.3" text-anchor="start">1</text>
<text x="294.92" y="895.91" font-size="16.3" text-anchor="start">0</text>
<text x="304.72" y="908.56" font-size="16.3" text-anchor="start">0</text>
<text x="349.62" y="908.64" font-size="16.3" text-anchor="start">12</text>
<text x="398.71" y="908.64" font-size="16.3" text-anchor="start">24</text>
<text x="449.13" y="908.56" font-size="16.3" text-anchor="start">36</text>
<text x="498.8" y="908.56" font-size="16.3" text-anchor="start">48</text>
<line x1="309.2" y1="885.9" x2="317.2" y2="885.9" stroke="#000" stroke-width="2" stroke-linecap="butt"/>
<line x1="328.1" y1="885.9" x2="336.1" y2="885.9" stroke="#000" stroke-width="2" stroke-linecap="butt"/>
<line x1="347" y1="885.9" x2="355" y2="885.9" stroke="#000" stroke-width="2" stroke-linecap="butt"/>
<line x1="365.9" y1="885.9" x2="373.9" y2="885.9" stroke="#000" stroke-width="2" stroke-linecap="butt"/>
<line x1="384.8" y1="885.9" x2="392.8" y2="885.9" stroke="#000" stroke-width="2" stroke-linecap="butt"/>
<line x1="403.7" y1="885.9" x2="411.7" y2="885.9" stroke="#000" stroke-width="2" stroke-linecap="butt"/>
<line x1="422.6" y1="885.9" x2="430.6" y2="885.9" stroke="#000" stroke-width="2" stroke-linecap="butt"/>
<line x1="441.5" y1="885.9" x2="449.5" y2="885.9" stroke="#000" stroke-width="2" stroke-linecap="butt"/>
<line x1="460.4" y1="885.9" x2="468.4" y2="885.9" stroke="#000" stroke-width="2" stroke-linecap="butt"/>
<line x1="479.3" y1="885.9" x2="487.3" y2="885.9" stroke="#000" stroke-width="2" stroke-linecap="butt"/>
<line x1="498.2" y1="885.9" x2="506" y2="885.9" stroke="#000" stroke-width="2" stroke-linecap="butt"/>
<polyline points="399.3,890 401,880 404.5,866 408.5,853 410,847.5 415,841.5 422,836 428,834.4 437,831.5 446.2,827.6 456,823 461,820 467,817.5 475.3,811.4 488.3,810 501.2,803.4 507,796.1" fill="none" stroke="#333" stroke-width="1.9" stroke-linejoin="miter" stroke-linecap="butt" stroke-dasharray="0.7,0.6,0.7,0.6,0.7,0.6,0.7,0.6,0.7,8"/>
<polyline points="309,890.8 383.8,890.8 396.8,832.2 409.8,847.3 421.8,854 435.2,826.8 447.3,834.2 460,836 472.4,834.5 485.4,834.5 511.3,827.9" fill="none" stroke="#000" stroke-width="2" stroke-linejoin="miter" stroke-linecap="butt"/>
</svg>
</body></html>
